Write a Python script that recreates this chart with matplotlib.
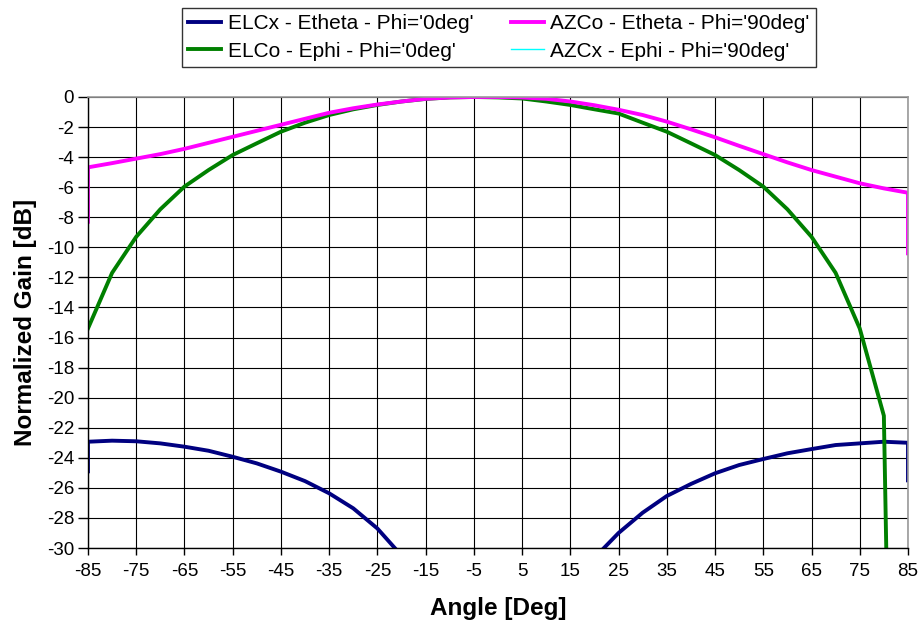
import matplotlib
matplotlib.use("Agg")
import matplotlib.pyplot as plt

plt.rcParams["font.family"] = ["Liberation Sans", "DejaVu Sans"]
plt.rcParams["axes.unicode_minus"] = False

# angles sampled every 5 deg
angles = list(range(-85, 90, 5))

elcx = [-22.93, -22.86, -22.9, -23.04, -23.26, -23.53, -23.93, -24.37, -24.92,
        -25.55, -26.36, -27.36, -28.7, -30.5, -33.0, -36.0, -40.0, -37.0,
        -34.0, -32.0, -31.5, -30.65, -29.0, -27.65, -26.54, -25.74, -25.03,
        -24.48, -24.08, -23.7, -23.42, -23.15, -23.04, -22.93, -23.0]

elco = [-15.4, -11.7, -9.3, -7.47, -5.96, -4.86, -3.86, -3.08, -2.31,
        -1.71, -1.2, -0.82, -0.53, -0.3, -0.13, -0.03, 0.0, -0.03,
        -0.1, -0.3, -0.53, -0.82, -1.1, -1.71, -2.31, -3.08, -3.86,
        -4.86, -5.96, -7.47, -9.3, -11.7, -15.4, -21.2, -110.0]

azco = [-4.68, -4.4, -4.1, -3.8, -3.45, -3.05, -2.65, -2.25, -1.85,
        -1.45, -1.05, -0.75, -0.5, -0.3, -0.12, -0.03, 0.0, 0.0,
        -0.03, -0.12, -0.3, -0.55, -0.85, -1.2, -1.64, -2.15, -2.68,
        -3.25, -3.8, -4.35, -4.86, -5.3, -5.74, -6.08, -6.37]

azcx = [-38.0, -38.5, -39.0, -39.5, -40.0, -41.0, -42.0, -43.0, -44.0,
        -45.0, -46.0, -47.0, -48.0, -49.0, -50.0, -51.0, -52.0, -51.0,
        -50.0, -49.0, -48.0, -47.0, -46.0, -45.0, -44.0, -43.0, -42.0,
        -41.0, -40.0, -39.5, -39.0, -38.5, -38.0, -38.0, -38.0]

# end values where the traces fall off at the axis limits
elcx_edges = [-24.9, -25.5]
azco_edges = [-8.3, -10.4]

labels = [
    "ELCx - Etheta - Phi='0deg'",
    "ELCo - Ephi - Phi='0deg'",
    "AZCo - Etheta - Phi='90deg'",
    "AZCx - Ephi - Phi='90deg'",
]

fig = plt.figure(figsize=(9.22, 6.31), dpi=100)
ax = fig.add_axes([0.0954, 0.1315, 0.8894, 0.7148])

ax.plot([angles[0]] + angles + [angles[-1]],
        [elcx_edges[0]] + elcx + [elcx_edges[1]],
        color="#000080", lw=2.8, label=labels[0])
ax.plot(angles, elco, color="#008000", lw=2.8, label=labels[1])
ax.plot([angles[0]] + angles + [angles[-1]],
        [azco_edges[0]] + azco + [azco_edges[1]],
        color="#FF00FF", lw=2.8, label=labels[2])
ax.plot(angles, azcx, color="#00FFFF", lw=1.0, label=labels[3])

ax.set_xlim(-85, 85)
ax.set_ylim(-30, 0)
ax.set_xticks(range(-85, 90, 10))
ax.set_yticks(range(-30, 1, 2))
ax.grid(True, color="black", lw=0.8)
ax.set_axisbelow(True)

ax.tick_params(axis="both", direction="out", labelsize=13.5, width=1, color="black")
ax.tick_params(axis="x", length=5, pad=6)
ax.tick_params(axis="y", length=7, pad=3)

for side in ["left", "bottom"]:
    ax.spines[side].set_color("black")
    ax.spines[side].set_linewidth(1)
for side in ["top", "right"]:
    ax.spines[side].set_color("#999999")
    ax.spines[side].set_linewidth(1.2)

ax.set_xlabel("Angle [Deg]", fontsize=17.5, fontweight="bold", labelpad=12)
ax.set_ylabel("Normalized Gain [dB]", fontsize=17.5, fontweight="bold", labelpad=7)

leg = fig.legend(loc="center", bbox_to_anchor=(0.541, 0.9406), ncol=2,
                 fontsize=15, frameon=True, fancybox=False,
                 handlelength=1.6, handletextpad=0.3, columnspacing=1.8,
                 borderpad=0.3, labelspacing=0.4)
leg.get_frame().set_edgecolor("black")
leg.get_frame().set_linewidth(1)

fig.savefig("out.png", dpi=100)
